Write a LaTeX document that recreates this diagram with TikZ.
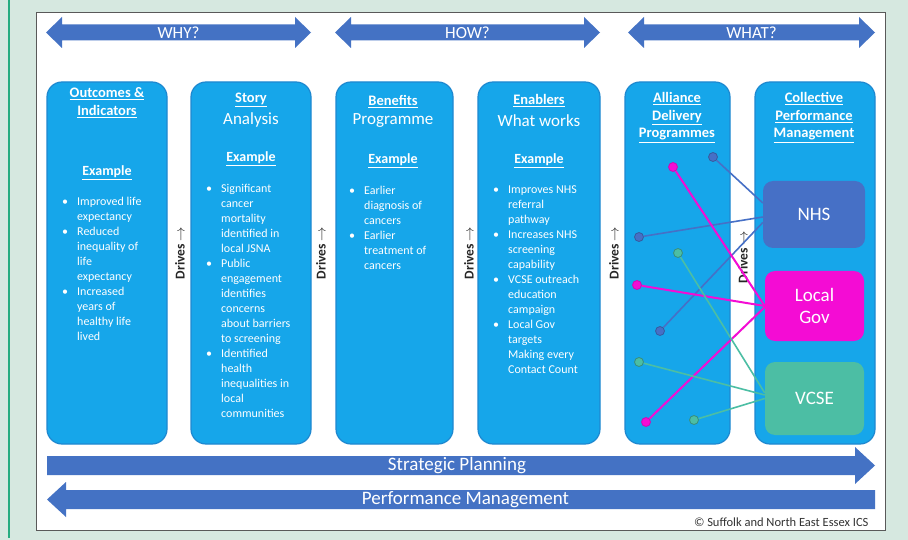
\documentclass[tikz,border=0pt]{standalone}
\usepackage{fontspec}
\setmainfont{Carlito}

\definecolor{mint}{RGB}{214,232,224}
\definecolor{edgegreen}{RGB}{38,172,128}
\definecolor{colfill}{RGB}{22,166,234}
\definecolor{coledge}{RGB}{30,136,208}
\definecolor{arrowblue}{RGB}{68,114,196}
\definecolor{nhsblue}{RGB}{70,112,198}
\definecolor{govpink}{RGB}{244,12,212}
\definecolor{vcseteal}{RGB}{76,190,164}

\def \dotSize {9pt}
\def \bul {\makebox[15pt][l]{\textbullet}}
\def \ind {\makebox[15pt]{}}

\begin{document}
\begin{tikzpicture}[x=1pt, y=-1pt,
   colbox/.style={draw=coledge, line width=1.2pt, fill=colfill, rounded corners=15pt,
                  minimum width=#1, minimum height=362pt, inner sep=0pt},
   heading/.style={text=white, font=\fontsize{14.5}{17.5}\selectfont\bfseries, align=center},
   subheading/.style={text=white, font=\fontsize{17}{20}\selectfont},
   example/.style={text=white, font=\fontsize{14}{17}\selectfont\bfseries},
   bullets/.style={text=white, font=\fontsize{12}{15}\selectfont, align=left,
                   anchor=north west, inner sep=0pt},
   drives/.style={rotate=90, font=\fontsize{13.5}{16}\selectfont\bfseries, text=black!85},
   group/.style={rounded corners=10pt, text=white, font=\fontsize{19}{22}\selectfont,
                 align=center, inner sep=0pt},
   arrowtxt/.style={text=white, font=\fontsize{17}{20}\selectfont},
   dot/.style={circle, minimum size=\dotSize, inner sep=0pt, line width=0.8pt},
   link/.style={line width=1.6pt},
]

   \fill[mint] (0,0) rectangle (908,540);
   \useasboundingbox (0,0) rectangle (908,540);
   \draw[edgegreen, line width=2pt] (9.3,0) -- (9.3,538);
   \filldraw[fill=white, draw=black!65, line width=0.6pt] (36,12) rectangle (885.5,530.5);

   % why / how / what
   \fill[arrowblue] (46,32.5) -- (62,17) -- (62,24.5) -- (295,24.5) -- (295,17) -- (311,32.5)
      -- (295,48) -- (295,40.5) -- (62,40.5) -- (62,48) -- cycle;
   \fill[arrowblue] (335,32.5) -- (351,17) -- (351,24.5) -- (584,24.5) -- (584,17) -- (600,32.5)
      -- (584,48) -- (584,40.5) -- (351,40.5) -- (351,48) -- cycle;
   \fill[arrowblue] (628,32.5) -- (644,17) -- (644,24.5) -- (859,24.5) -- (859,17) -- (875,32.5)
      -- (859,48) -- (859,40.5) -- (644,40.5) -- (644,48) -- cycle;
   \node[arrowtxt] (why) at (178.5,33) {WHY?};
   \node[arrowtxt] (how) at (467.5,33) {HOW?};
   \node[arrowtxt] (what) at (751.5,33) {WHAT?};

   % columns
   \node[colbox=120pt] (outcomes) at (107,263) {};
   \node[colbox=120pt] (story) at (251,263) {};
   \node[colbox=117pt] (benefits) at (394.5,263) {};
   \node[colbox=122pt] (enablers) at (539,263) {};
   \node[colbox=105pt] (alliance) at (677.5,263) {};
   \node[colbox=120pt] (collective) at (815,263) {};

   \node[heading] (outcomes-h) at (107,102.5) {\underline{Outcomes \&}\\\underline{Indicators}};
   \node[example] (outcomes-ex) at (107,173) {\underline{Example}};
   \node[bullets] (outcomes-l) at (62,197) {\bul Improved life\\\ind expectancy\\\bul Reduced\\
      \ind inequality of\\\ind life\\\ind expectancy\\\bul Increased\\\ind years of\\
      \ind healthy life\\\ind lived};

   \node[heading] (story-h) at (251,100) {\underline{Story}};
   \node[subheading] (story-s) at (251,119.5) {Analysis};
   \node[example] (story-ex) at (251,159) {\underline{Example}};
   \node[bullets] (story-l) at (206,184) {\bul Significant\\\ind cancer\\\ind mortality\\
      \ind identified in\\\ind local JSNA\\\bul Public\\\ind engagement\\\ind identifies\\
      \ind concerns\\\ind about barriers\\\ind to screening\\\bul Identified\\\ind health\\
      \ind inequalities in\\\ind local\\\ind communities};

   \node[heading] (benefits-h) at (393,101.5) {\underline{Benefits}};
   \node[subheading] (benefits-s) at (393,121) {Programme};
   \node[example] (benefits-ex) at (393,161) {\underline{Example}};
   \node[bullets] (benefits-l) at (349,186) {\bul Earlier\\\ind diagnosis of\\\ind cancers\\
      \bul Earlier\\\ind treatment of\\\ind cancers};

   \node[heading] (enablers-h) at (539,100.5) {\underline{Enablers}};
   \node[subheading] (enablers-s) at (539,120.5) {What works};
   \node[example] (enablers-ex) at (539,161) {\underline{Example}};
   \node[bullets] (enablers-l) at (493,186) {\bul Improves NHS\\\ind referral\\\ind pathway\\
      \bul Increases NHS\\\ind screening\\\ind capability\\\bul VCSE outreach\\\ind education\\
      \ind campaign\\\bul Local Gov\\\ind targets\\\ind Making every\\\ind Contact Count};

   \node[heading] (alliance-h) at (677,117.5) {\underline{Alliance}\\\underline{Delivery}\\
      \underline{Programmes}};
   \node[heading] (collective-h) at (814,117.5) {\underline{Collective}\\\underline{Performance}\\
      \underline{Management}};

   % drives labels between the columns
   \node[drives] (drives1) at (180,253) {Drives $\rightarrow$};
   \node[drives] (drives2) at (321,253) {Drives $\rightarrow$};
   \node[drives] (drives3) at (469,253) {Drives $\rightarrow$};
   \node[drives] (drives4) at (614,253) {Drives $\rightarrow$};
   \node[drives] (drives5) at (743,257) {Drives $\rightarrow$};

   % partners
   \node[group, fill=nhsblue, minimum width=102pt, minimum height=67pt] (nhs) at (814,214.5) {NHS};
   \node[group, fill=govpink, minimum width=99pt, minimum height=70pt] (gov) at (814.5,306) {Local\\Gov};
   \node[group, fill=vcseteal, minimum width=99pt, minimum height=73pt] (vcse) at (814.5,398.5) {VCSE};

   \node[dot, fill=nhsblue, draw=nhsblue!80!black] (b1) at (713,157) {};
   \node[dot, fill=nhsblue, draw=nhsblue!80!black] (b2) at (639,237) {};
   \node[dot, fill=nhsblue, draw=nhsblue!80!black] (b3) at (660,331) {};
   \node[dot, fill=govpink, draw=govpink!85!black] (m1) at (673,167) {};
   \node[dot, fill=govpink, draw=govpink!85!black] (m2) at (637,285) {};
   \node[dot, fill=govpink, draw=govpink!85!black] (m3) at (646,422) {};
   \node[dot, fill=vcseteal, draw=vcseteal!75!black] (t1) at (678,253) {};
   \node[dot, fill=vcseteal, draw=vcseteal!75!black] (t2) at (639,362) {};
   \node[dot, fill=vcseteal, draw=vcseteal!75!black] (t3) at (694,420) {};

   \draw[link, nhsblue] (b1) -- ([yshift=11.5pt]nhs.west);
   \draw[link, nhsblue] (b2) -- ([yshift=-2.5pt]nhs.west);
   \draw[link, nhsblue] (b3) -- ([yshift=-8pt]nhs.west);
   \draw[link, govpink, line width=2pt] (m1) -- (gov.west);
   \draw[link, govpink, line width=2pt] (m2) -- (gov.west);
   \draw[link, govpink, line width=2pt] (m3) -- ([yshift=-1pt]gov.west);
   \draw[link, vcseteal] (t1) -- ([yshift=5.5pt]vcse.west);
   \draw[link, vcseteal] (t2) -- ([yshift=3.5pt]vcse.west);
   \draw[link, vcseteal] (t3) -- (vcse.west);

   % strategic planning / performance management
   \fill[arrowblue] (47,456) -- (855,456) -- (855,447) -- (875,465.5) -- (855,484) -- (855,475)
      -- (47,475) -- cycle;
   \fill[arrowblue] (47,499.5) -- (66,482) -- (66,490) -- (875,490) -- (875,509) -- (66,509)
      -- (66,517) -- cycle;
   \node[arrowtxt, font=\fontsize{19}{22}\selectfont] (planning) at (457,466) {Strategic Planning};
   \node[arrowtxt, font=\fontsize{19}{22}\selectfont] (performance) at (465.5,500) {Performance Management};

   \node[anchor=east, text=black!80, font=\fontsize{12.5}{15}\selectfont] (credit) at (872,522)
      {\textcopyright\ Suffolk and North East Essex ICS};

\end{tikzpicture}
\end{document}
